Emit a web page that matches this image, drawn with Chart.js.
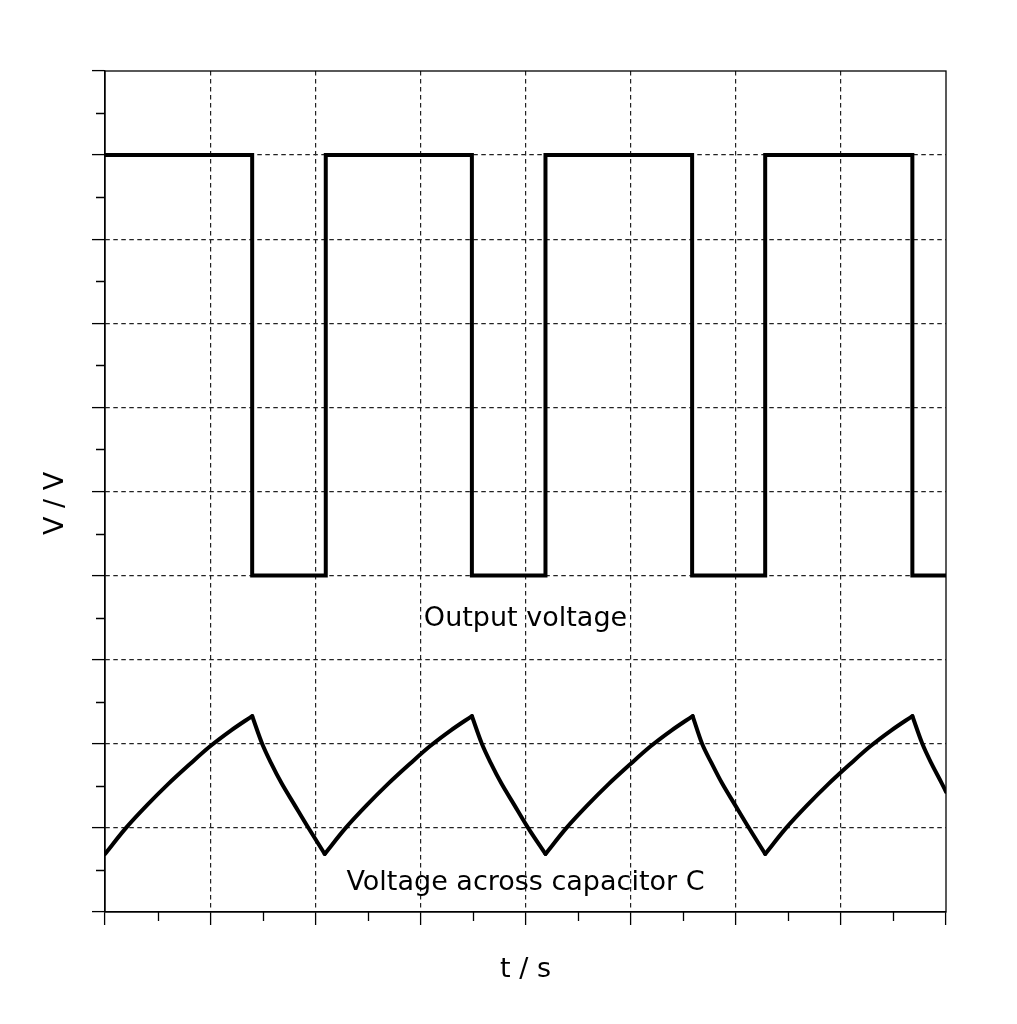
<!DOCTYPE html>
<html>
<head>
<meta charset="utf-8">
<script src="https://cdn.jsdelivr.net/npm/chart.js@4.4.0/dist/chart.umd.min.js"></script>
<style>
  html, body { margin: 0; padding: 0; background: #fff; }
  #wrap { width: 1017px; height: 1024px; }
</style>
</head>
<body>
<div id="wrap"><canvas id="myChart" width="1017" height="1024"></canvas></div>
<script>
"use strict";

// #region Data
const squareX = [0, 1.40, 1.40, 2.10, 2.10, 3.49, 3.49, 4.19, 4.19, 5.585, 5.585, 6.28, 6.28, 7.68, 7.68, 8.0];
const squareY = [9, 9, 4, 4, 9, 9, 4, 4, 9, 9, 4, 4, 9, 9, 4, 4];

const capX = [
    0, 0.2, 0.4, 0.6, 0.8, 1.0, 1.2, 1.40, 1.495, 1.58, 1.68, 1.80, 1.93, 2.09,
    2.29, 2.49, 2.69, 2.89, 3.09, 3.29, 3.49, 3.585, 3.67, 3.77, 3.89, 4.02, 4.19,
    4.39, 4.59, 4.79, 4.99, 5.19, 5.39, 5.59, 5.68, 5.77, 5.87, 5.99, 6.12, 6.28,
    6.48, 6.68, 6.88, 7.08, 7.28, 7.48, 7.68, 7.775, 7.86, 7.96, 8.0
];
const capY = [
    0.69, 1.0, 1.27, 1.52, 1.75, 1.97, 2.16, 2.33, 2.0, 1.77, 1.53, 1.28, 1.01, 0.69,
    1.0, 1.27, 1.52, 1.75, 1.97, 2.16, 2.33, 2.0, 1.77, 1.53, 1.28, 1.01, 0.69,
    1.0, 1.27, 1.52, 1.75, 1.97, 2.16, 2.33, 2.0, 1.77, 1.53, 1.28, 1.01, 0.69,
    1.0, 1.27, 1.52, 1.75, 1.97, 2.16, 2.33, 2.0, 1.77, 1.53, 1.43
];

const xLabel = "t / s";
const yLabel = "V / V";
const outputLabel = "Output voltage";
const capLabel = "Voltage across capacitor C";
// #endregion

const FONT = "27px 'DejaVu Sans', 'Liberation Sans', sans-serif";

function toPoints(xs, ys) {
    return xs.map((x, i) => ({ x: x, y: ys[i] }));
}

/* split a curve into rising / falling runs so every run can be smoothed on its own */
function splitMonotone(points) {
    const runs = [];
    let run = [points[0]];
    let dir = 0;
    for (let i = 1; i < points.length; i++) {
        const d = Math.sign(points[i].y - points[i - 1].y);
        if (dir !== 0 && d !== dir) {
            runs.push(run);
            run = [points[i - 1]];
        }
        dir = d;
        run.push(points[i]);
    }
    runs.push(run);
    return runs;
}

// #region Plugins
/* top/right frame, minor ticks and all the text */
const framePlugin = {
    id: "frame",
    afterDraw(chart) {
        const { ctx, chartArea: area } = chart;
        const xs = chart.scales.x;
        const ys = chart.scales.y;
        ctx.save();

        // minor ticks
        ctx.strokeStyle = "#000";
        ctx.lineWidth = 1.3;
        ctx.beginPath();
        for (let v = 0.5; v < 8; v += 1) {
            const px = Math.round(xs.getPixelForValue(v)) + 0.5;
            ctx.moveTo(px, area.bottom);
            ctx.lineTo(px, area.bottom + 9);
        }
        for (let v = 0.5; v < 10; v += 1) {
            const py = Math.round(ys.getPixelForValue(v)) + 0.5;
            ctx.moveTo(area.left, py);
            ctx.lineTo(area.left - 9, py);
        }
        ctx.stroke();

        // full box
        ctx.lineWidth = 1.3;
        ctx.strokeRect(area.left, area.top, area.right - area.left, area.bottom - area.top);

        // text
        ctx.fillStyle = "#000";
        ctx.font = FONT;
        ctx.textAlign = "center";
        ctx.textBaseline = "alphabetic";
        ctx.fillText(outputLabel, xs.getPixelForValue(4), ys.getPixelForValue(3.40));
        ctx.fillText(capLabel, xs.getPixelForValue(4), ys.getPixelForValue(0.26));
        ctx.fillText(xLabel, (area.left + area.right) / 2, area.bottom + 65);

        ctx.translate(area.left - 42, (area.top + area.bottom) / 2 + 12);
        ctx.rotate(-Math.PI / 2);
        ctx.fillText(yLabel, 0, 0);
        ctx.restore();
    },
};
// #endregion

// #region Chart
const gridOpts = {
    color: (c) => (c.tick && (c.tick.value === c.scale.min || c.tick.value === c.scale.max) ? "rgba(0,0,0,0)" : "#222"),
    lineWidth: 1.2,
    drawTicks: true,
    tickLength: 13,
    tickColor: "#000",
    tickWidth: 1.3,
};
const borderOpts = { display: true, color: "#000", width: 1.3, dash: [4.5, 3.5] };

const capRuns = splitMonotone(toPoints(capX, capY)).map((run) => ({
    label: capLabel,
    data: run,
    borderColor: "#000",
    borderWidth: 4,
    borderCapStyle: "round",
    pointRadius: 0,
    showLine: true,
    cubicInterpolationMode: "monotone",
}));

const data = {
    datasets: [
        {
            label: outputLabel,
            data: toPoints(squareX, squareY),
            borderColor: "#000",
            borderWidth: 4,
            borderJoinStyle: "miter",
            pointRadius: 0,
            showLine: true,
            tension: 0,
        },
        ...capRuns,
    ],
};

const config = {
    type: "scatter",
    data: data,
    options: {
        responsive: false,
        animation: false,
        layout: { padding: { left: 0, top: 71, right: 71, bottom: 0 } },
        plugins: { legend: { display: false }, tooltip: { enabled: false } },
        scales: {
            x: {
                type: "linear",
                min: 0,
                max: 8,
                ticks: { display: false, stepSize: 1 },
                grid: gridOpts,
                border: borderOpts,
                afterFit: (scale) => { scale.height = 112; },
            },
            y: {
                type: "linear",
                min: 0,
                max: 10,
                ticks: { display: false, stepSize: 1 },
                grid: gridOpts,
                border: borderOpts,
                afterFit: (scale) => { scale.width = 105; },
            },
        },
    },
    plugins: [framePlugin],
};

const myChart = new Chart(document.getElementById("myChart"), config);
// #endregion
</script>
</body>
</html>
